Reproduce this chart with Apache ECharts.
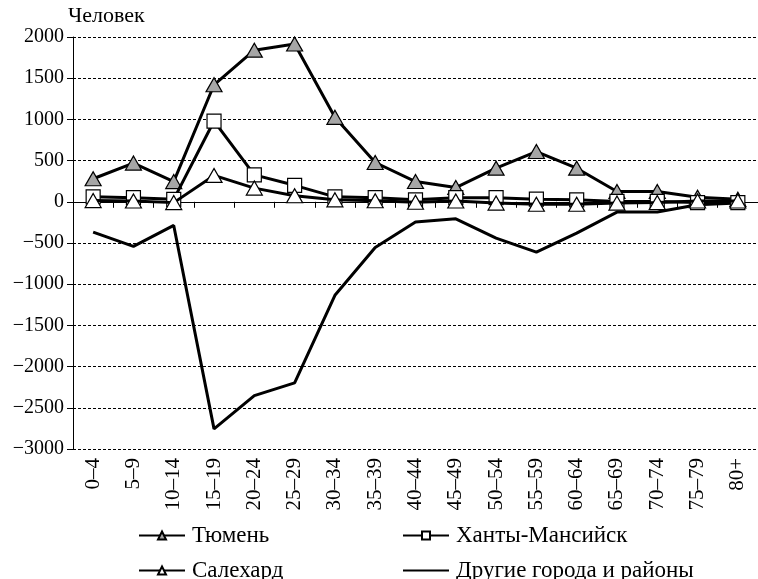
<!DOCTYPE html>
<html>
<head>
<meta charset="utf-8">
<script src="https://cdn.jsdelivr.net/npm/echarts@6/dist/echarts.min.js"></script>
<style>
html,body{margin:0;padding:0;background:#fff;}
#chart{width:758px;height:579px;}
</style>
</head>
<body>
<div id="chart"></div>
<script>
const categories = ['0–4','5–9','10–14','15–19','20–24','25–29','30–34','35–39','40–44','45–49','50–54','55–59','60–64','65–69','70–74','75–79','80+'];
const tyumen = [280, 470, 245, 1420, 1840, 1915, 1025, 477, 246, 173, 408, 610, 408, 125, 125, 55, 30];
const khanty = [60, 50, 30, 980, 327, 200, 60, 50, 24, 50, 50, 32, 24, 5, 5, -10, -10];
const salekhard = [15, 10, -10, 320, 166, 73, 24, 12, -5, 10, -16, -30, -30, -16, -8, 10, 10];
const others = [-367, -541, -287, -2756, -2352, -2198, -1135, -554, -246, -206, -440, -610, -380, -125, -125, -36, -16];
const yTicks = {min: -3000, max: 2000, interval: 500};
const names = ['Тюмень', 'Ханты-Мансийск', 'Салехард', 'Другие города и районы'];

const FONT = "'Liberation Serif', 'Times New Roman', serif";
const chart = echarts.init(document.getElementById('chart'), null, {renderer: 'canvas'});

function legendAt(name, left, top, extra) {
  return {
    orient: 'horizontal', left: left, top: top, padding: 0, itemWidth: 46, itemHeight: 10,
    data: [Object.assign({name: name}, extra || {})],
    textStyle: {fontFamily: FONT, fontSize: 23, color: '#000', padding: [0, 0, 0, 2]}
  };
}

const option = {
  backgroundColor: '#fff',
  animation: false,
  textStyle: {fontFamily: FONT, color: '#000'},
  grid: {left: 73, top: 37, width: 689, height: 412, containLabel: false},
  legend: [
    legendAt(names[0], 138, 524),
    legendAt(names[2], 138, 559),
    legendAt(names[1], 402, 524),
    legendAt(names[3], 402, 559, {itemStyle: {opacity: 0}})
  ],
  xAxis: [
    {
      type: 'category', data: categories, boundaryGap: true, position: 'bottom',
      axisLine: {show: false, onZero: false},
      axisTick: {show: false},
      axisLabel: {rotate: 90, margin: 9, fontFamily: FONT, fontSize: 21, color: '#000', interval: 0},
      splitLine: {show: false}
    },
    {
      type: 'category', data: categories, boundaryGap: true, position: 'bottom',
      axisLine: {show: true, onZero: true, lineStyle: {color: '#000', width: 1}},
      axisTick: {show: true, inside: false, length: 6, interval: 0, lineStyle: {color: '#000', width: 1}},
      axisLabel: {show: false},
      splitLine: {show: false}
    }
  ],
  yAxis: {
    type: 'value', min: yTicks.min, max: yTicks.max, interval: yTicks.interval,
    name: 'Человек', nameLocation: 'end', nameGap: 1,
    nameTextStyle: {fontFamily: FONT, fontSize: 22, color: '#000', align: 'left', verticalAlign: 'bottom', padding: [0, 0, 0, -5]},
    axisLine: {show: true, onZero: false, lineStyle: {color: '#000', width: 1}},
    axisTick: {show: true, length: 6, lineStyle: {color: '#000', width: 1}},
    axisLabel: {
      fontFamily: FONT, fontSize: 20, color: '#000', margin: 9,
      formatter: v => String(v).replace('-', '−')
    },
    splitLine: {show: true, lineStyle: {color: '#000', width: 1, type: [3, 2]}}
  },
  series: [
    {
      name: names[0], type: 'line', data: tyumen, xAxisIndex: 0,
      symbol: 'triangle', symbolSize: [16, 14], showAllSymbol: true,
      lineStyle: {color: '#000', width: 3},
      itemStyle: {color: '#a6a6a6', borderColor: '#000', borderWidth: 1.2},
      z: 2
    },
    {
      name: names[1], type: 'line', data: khanty, xAxisIndex: 0,
      symbol: 'rect', symbolSize: 14, showAllSymbol: true,
      lineStyle: {color: '#000', width: 3},
      itemStyle: {color: '#fff', borderColor: '#000', borderWidth: 1.2},
      z: 3
    },
    {
      name: names[2], type: 'line', data: salekhard, xAxisIndex: 0,
      symbol: 'triangle', symbolSize: [16, 14], showAllSymbol: true,
      lineStyle: {color: '#000', width: 3},
      itemStyle: {color: '#fff', borderColor: '#000', borderWidth: 1.2},
      z: 4
    },
    {
      name: names[3], type: 'line', data: others, xAxisIndex: 0,
      symbol: 'none', showSymbol: false,
      lineStyle: {color: '#000', width: 3},
      itemStyle: {color: '#000'},
      z: 1
    }
  ]
};
chart.setOption(option);
</script>
</body>
</html>
